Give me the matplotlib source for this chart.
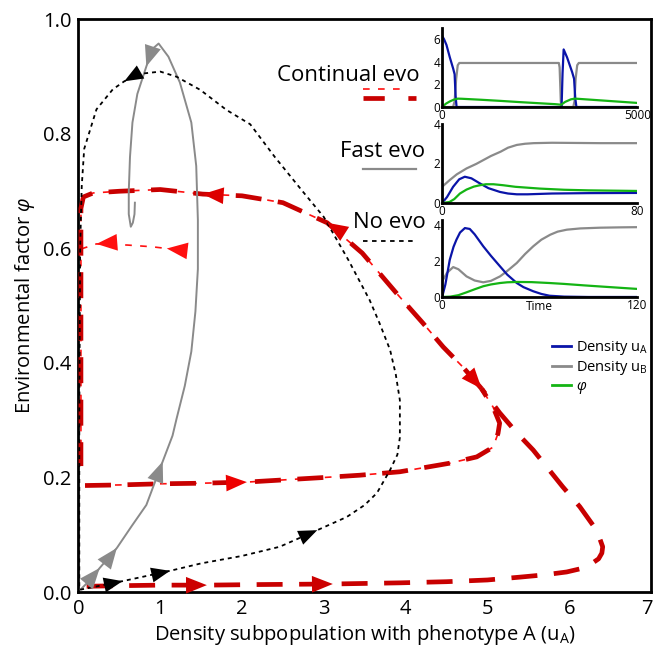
import matplotlib
matplotlib.use("Agg")
import matplotlib.pyplot as plt
import matplotlib.transforms as mtransforms
from matplotlib.lines import Line2D

plt.rcParams['font.family'] = ['Open Sans', 'DejaVu Sans']
plt.rcParams['mathtext.fontset'] = 'custom'
plt.rcParams['mathtext.rm'] = 'Open Sans'
plt.rcParams['mathtext.it'] = 'Open Sans:italic'

# ---- phase plane trajectories (u_A, phi) ----
noevo_x = [0.02, 0.3, 0.54, 0.8, 1.12, 1.5, 2.0, 2.46, 2.92, 3.28, 3.5, 3.65, 3.81, 3.9, 3.93, 3.93,
           3.88, 3.81, 3.68, 3.56, 3.3, 3.0, 2.74, 2.4, 2.1, 1.81, 1.49, 1.2, 1.0, 0.75, 0.56, 0.42,
           0.22, 0.07, 0.04, 0.02, 0.01, 0.01]
noevo_y = [0.004, 0.012, 0.019, 0.027, 0.037, 0.05, 0.063, 0.079, 0.108, 0.131, 0.152, 0.173, 0.213,
           0.24, 0.27, 0.335, 0.38, 0.423, 0.47, 0.51, 0.58, 0.655, 0.70, 0.76, 0.817, 0.842, 0.877,
           0.90, 0.909, 0.905, 0.892, 0.878, 0.843, 0.774, 0.709, 0.6, 0.3, 0.004]
noevo_arrows = [2, 4, 8, 30]

fast_x = [0.03, 0.15, 0.26, 0.47, 0.65, 0.83, 1.03, 1.15, 1.2, 1.3, 1.38, 1.43, 1.46, 1.46, 1.44,
          1.38, 1.24, 1.1, 0.98, 0.9, 0.83, 0.72, 0.66, 0.63, 0.615, 0.615, 0.64, 0.665, 0.685, 0.69]
fast_y = [0.005, 0.022, 0.042, 0.077, 0.115, 0.152, 0.228, 0.273, 0.303, 0.36, 0.42, 0.49, 0.564,
          0.65, 0.744, 0.82, 0.89, 0.935, 0.958, 0.948, 0.918, 0.87, 0.82, 0.76, 0.70, 0.66, 0.638,
          0.645, 0.66, 0.68]
fast_arrows = [2, 3, 6, 20]

# continual evo, pieces of the red trajectory
red_low_x = [0.1, 0.5, 1.0, 1.57, 2.2, 3.11, 3.93, 4.5, 5.0, 5.4, 5.7, 5.97, 6.15, 6.28, 6.36, 6.4,
             6.41, 6.37, 6.29, 6.13, 5.92, 5.56, 5.36, 5.15, 4.93]
red_low_y = [0.010, 0.011, 0.012, 0.012, 0.013, 0.014, 0.016, 0.018, 0.021, 0.026, 0.030, 0.035,
             0.041, 0.050, 0.058, 0.068, 0.079, 0.095, 0.117, 0.149, 0.184, 0.248, 0.278, 0.313, 0.355]
red_low_arrows = [3, 5]

red_up_x = [4.93, 4.7, 4.46, 4.21, 3.9, 3.47, 3.04, 2.5, 2.0, 1.52, 1.0, 0.5, 0.18, 0.06, 0.03, 0.03, 0.03]
red_up_y = [0.355, 0.393, 0.428, 0.47, 0.52, 0.592, 0.645, 0.68, 0.692, 0.695, 0.703, 0.70, 0.697,
            0.69, 0.67, 0.45, 0.22]
red_up_arrows = [6, 9]

red_mid_x = [0.08, 0.5, 1.0, 1.5, 2.06, 3.0, 3.44, 3.93, 4.42, 4.54, 4.87, 5.07, 5.13, 5.15, 5.07, 4.99, 4.93]
red_mid_y = [0.186, 0.187, 0.189, 0.19, 0.192, 0.2, 0.204, 0.21, 0.222, 0.225, 0.236, 0.253, 0.277,
             0.295, 0.323, 0.341, 0.355]
red_mid_arrows = [4]

red_start_x = [1.2, 1.08, 0.9, 0.6, 0.22, 0.05]
red_start_y = [0.598, 0.600, 0.603, 0.606, 0.608, 0.6]
red_start_arrows = [1, 4]

# ---- inset time series ----
t1 = {'ua': ([0, 50, 111, 197, 283, 320, 345, 370, 3060, 3085, 3113, 3200, 3330, 3380, 3410, 3440, 5000],
             [6.3, 6.0, 5.5, 4.4, 3.4, 2.9, 1.0, 0, 0, 3.0, 5.1, 4.4, 3.1, 2.5, 0.8, 0, 0]),
      'ub': ([0, 280, 320, 360, 400, 440, 2990, 3010, 3040, 3060, 3360, 3390, 3420, 3460, 3500, 5000],
             [0, 0, 0.5, 2.5, 3.7, 3.9, 3.9, 3.5, 0.5, 0, 0, 0.5, 2.5, 3.7, 3.9, 3.9]),
      'phi': ([0, 100, 200, 300, 400, 500, 1000, 1500, 2000, 2500, 2900, 3050, 3150, 3300, 3400, 3500,
               4000, 4500, 5000],
              [0, 0.3, 0.5, 0.65, 0.74, 0.73, 0.64, 0.54, 0.43, 0.33, 0.25, 0.2, 0.45, 0.68, 0.74,
               0.72, 0.6, 0.48, 0.36])}
t2 = {'ua': ([0, 2, 4.5, 7, 9.3, 12, 15.5, 19, 23.7, 27, 30.6, 35, 45, 60, 80],
             [0, 0.3, 0.82, 1.2, 1.33, 1.25, 0.99, 0.75, 0.56, 0.48, 0.44, 0.44, 0.48, 0.5, 0.51]),
      'ub': ([0, 3, 6, 10, 14, 17, 20, 24, 27, 30.6, 34, 37.5, 45, 55, 65, 80],
             [0.82, 1.15, 1.45, 1.75, 1.98, 2.18, 2.38, 2.6, 2.8, 2.94, 3.0, 3.03, 3.05, 3.04, 3.03, 3.03]),
      'phi': ([0, 3, 5, 7.3, 10, 13, 15.5, 18, 21, 25, 30, 40, 50, 60, 80],
              [0, 0.05, 0.2, 0.48, 0.68, 0.83, 0.9, 0.95, 0.95, 0.9, 0.82, 0.73, 0.67, 0.64, 0.61])}
t3 = {'ua': ([0, 2, 4.7, 7, 8.8, 11, 14, 17, 20, 25.3, 30, 35.6, 40, 45.9, 50, 56, 61, 66, 75, 90, 120],
             [0, 0.7, 2.08, 2.8, 3.2, 3.6, 3.85, 3.8, 3.5, 2.83, 2.3, 1.71, 1.25, 0.78, 0.55, 0.32, 0.17,
              0.07, 0.02, 0, 0]),
      'ub': ([0, 3, 6.8, 10, 15, 20, 25.3, 30, 35.6, 40, 45.9, 51, 56, 61, 66.5, 71, 76.7, 85, 97, 110, 120],
             [0.87, 1.35, 1.67, 1.55, 1.15, 0.92, 0.82, 0.9, 1.15, 1.45, 1.9, 2.4, 2.83, 3.2, 3.48, 3.65,
              3.76, 3.83, 3.87, 3.89, 3.9]),
      'phi': ([0, 5, 10, 15, 20, 25.3, 30, 35.6, 40, 46, 55, 66, 75, 87, 100, 120],
              [0, 0.02, 0.1, 0.26, 0.43, 0.6, 0.7, 0.78, 0.82, 0.84, 0.83, 0.78, 0.73, 0.65, 0.57, 0.45])}

DARKRED = '#c80000'
RED = '#ff1010'
GRAY = '#8a8a8a'
BLUE = '#0a14a8'
GREEN = '#14b414'


def arrows(ax, xs, ys, idx, color, scale=18, sign=1):
    for i in idx:
        j0 = max(i - 1, 0)
        j1 = min(i + 1, len(xs) - 1)
        dx = (xs[j1] - xs[j0]) * sign
        dy = (ys[j1] - ys[j0]) * sign
        ax.annotate('', xy=(xs[i], ys[i]), xytext=(xs[i] - dx * 0.01, ys[i] - dy * 0.01),
                    arrowprops=dict(arrowstyle='-|>,head_length=0.75,head_width=0.3', color=color,
                                    lw=0, mutation_scale=scale, shrinkA=0, shrinkB=0), zorder=6)


def thick(ax, xs, ys):
    ax.plot(xs, ys, color=DARKRED, lw=3.4, ls=(0, (5.5, 3.5)), solid_capstyle='butt', zorder=3)


def thin(ax, xs, ys):
    ax.plot(xs, ys, color=RED, lw=1.2, ls=(0, (4, 5)), zorder=2)


fig = plt.figure(figsize=(6.55, 6.54), dpi=100)
ax = fig.add_axes([0.1198, 0.0948, 0.874, 0.8754])

thick(ax, red_low_x, red_low_y)
thick(ax, red_up_x, red_up_y)
thin(ax, red_up_x, red_up_y)
thick(ax, red_mid_x, red_mid_y)
thin(ax, red_mid_x, red_mid_y)
thin(ax, red_start_x, red_start_y)
arrows(ax, red_low_x, red_low_y, red_low_arrows, '#cc0000', 20)
arrows(ax, red_up_x, red_up_y, red_up_arrows, '#dd0000', 20)
arrows(ax, red_up_x, red_up_y, [0], '#dd0000', 20, sign=-1)
arrows(ax, red_mid_x, red_mid_y, red_mid_arrows, '#ee0000', 20)
arrows(ax, red_start_x, red_start_y, red_start_arrows, RED, 20)

ax.plot(fast_x, fast_y, color=GRAY, lw=1.4, zorder=4)
arrows(ax, fast_x, fast_y, fast_arrows, GRAY, 20)
ax.plot(noevo_x, noevo_y, color='black', lw=1.3, ls=(0, (2.2, 2.2)), zorder=5)
arrows(ax, noevo_x, noevo_y, noevo_arrows, 'black', 18)

ax.set_xlim(0, 7)
ax.set_ylim(0, 1)
ax.set_xticks(range(8))
ax.set_yticks([0, 0.2, 0.4, 0.6, 0.8, 1.0])
ax.set_yticklabels(['0.0', '0.2', '0.4', '0.6', '0.8', '1.0'])
ax.tick_params(length=0, labelsize=14.5, pad=5)
# keep the last x tick label inside the figure
last = ax.get_xticklabels()[-1]
last.set_transform(last.get_transform() + mtransforms.ScaledTranslation(-3 / 72, 0, fig.dpi_scale_trans))
for s in ax.spines.values():
    s.set_linewidth(2)
ax.set_xlabel(r'Density subpopulation with phenotype A (u$_\mathregular{A}$)', fontsize=14.5, labelpad=3)
ax.set_ylabel(r'Environmental factor $\varphi$', fontsize=14.5, labelpad=4)

# labels for the three scenarios
ax.text(0.596, 0.903, 'Continual evo', transform=ax.transAxes, ha='right', va='center', fontsize=16)
ax.text(0.606, 0.77, 'Fast evo', transform=ax.transAxes, ha='right', va='center', fontsize=16)
ax.text(0.606, 0.645, 'No evo', transform=ax.transAxes, ha='right', va='center', fontsize=16)
ax.plot([0.497, 0.590], [0.862, 0.862], transform=ax.transAxes, color=DARKRED, lw=3.4,
        ls=(0, (4.5, 5)), solid_capstyle='butt')
ax.plot([0.497, 0.570], [0.878, 0.878], transform=ax.transAxes, color=RED, lw=1.2, ls=(0, (4, 5)))
ax.plot([0.497, 0.590], [0.739, 0.739], transform=ax.transAxes, color=GRAY, lw=1.6)
ax.plot([0.497, 0.585], [0.613, 0.613], transform=ax.transAxes, color='black', lw=1.3,
        ls=(0, (2.5, 2.5)))

ax.legend(handles=[Line2D([], [], color=BLUE, lw=2),
                   Line2D([], [], color=GRAY, lw=2),
                   Line2D([], [], color=GREEN, lw=2)],
          labels=[r'Density u$_\mathregular{A}$', r'Density u$_\mathregular{B}$', r'$\varphi$'],
          loc='upper left', bbox_to_anchor=(0.815, 0.455), frameon=False, fontsize=10.5,
          handlelength=1.3, handletextpad=0.3, labelspacing=0.15, borderpad=0)

# ---- insets ----
insets = [([0.675, 0.8364, 0.298, 0.1208], t1, 5000, 7, [0, 2, 4, 6]),
          ([0.675, 0.6896, 0.298, 0.1208], t2, 80, 4, [0, 2, 4]),
          ([0.675, 0.5459, 0.298, 0.1177], t3, 120, 4.3, [0, 2, 4])]
for rect, d, tmax, ymax, yt in insets:
    ia = fig.add_axes(rect)
    ia.plot(*d['ub'], color=GRAY, lw=1.6)
    ia.plot(*d['ua'], color=BLUE, lw=1.6)
    ia.plot(*d['phi'], color=GREEN, lw=1.6)
    ia.set_xlim(0, tmax)
    ia.set_ylim(0, ymax)
    ia.set_xticks([0, tmax])
    ia.set_yticks(yt)
    ia.tick_params(length=0, labelsize=8.5, pad=1.5)
    ia.spines['top'].set_visible(False)
    ia.spines['right'].set_visible(False)
    ia.spines['left'].set_linewidth(2)
    ia.spines['bottom'].set_linewidth(2)
    ia.patch.set_alpha(0)
    if tmax == 120:
        ia.set_xlabel('Time', fontsize=8.5, labelpad=-9)

fig.savefig('out.png', dpi=100)
